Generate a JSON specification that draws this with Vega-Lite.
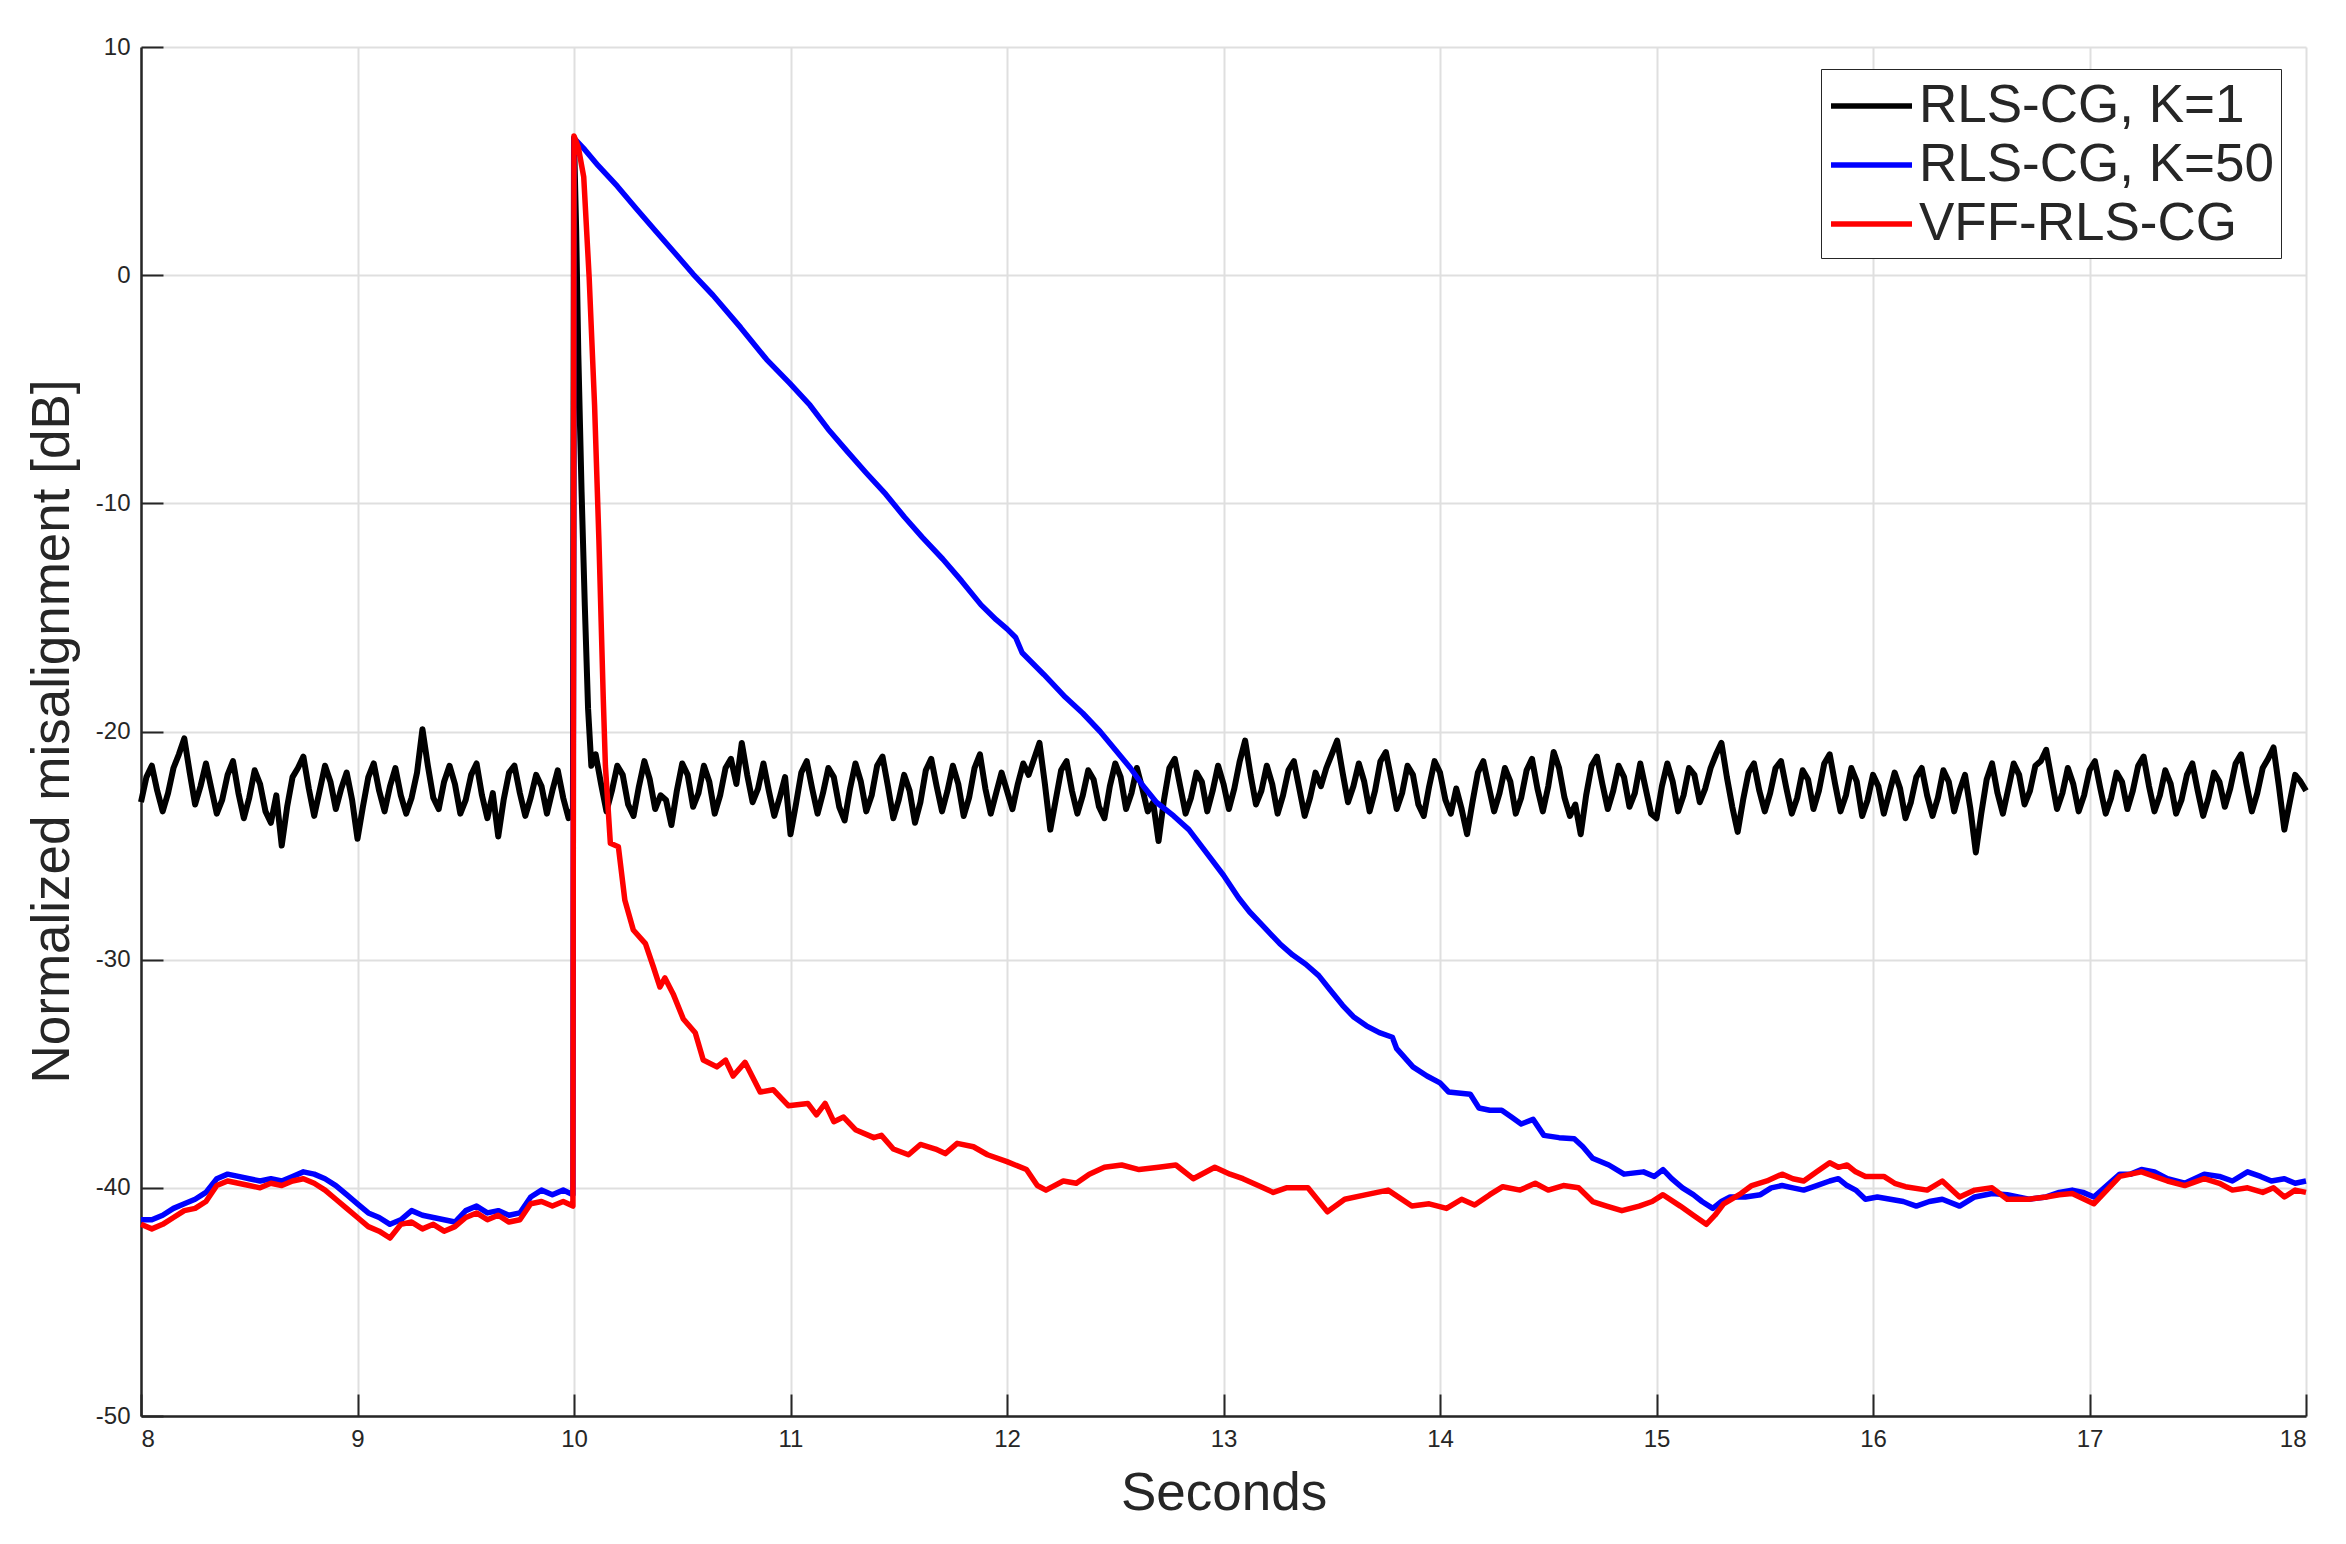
{
  "$schema": "https://vega.github.io/schema/vega-lite/v6.json",
  "width": 2165,
  "height": 1369,
  "autosize": {"type": "none"},
  "padding": {"left": 141, "top": 47, "right": 40, "bottom": 128},
  "background": "white",
  "datasets": {
    "k1": [
      {"t":8.000,"v":-23.1},{"t":8.025,"v":-22.0},{"t":8.050,"v":-21.5},{"t":8.075,"v":-22.6},{"t":8.100,"v":-23.5},
      {"t":8.125,"v":-22.7},{"t":8.150,"v":-21.6},{"t":8.175,"v":-21.0},{"t":8.200,"v":-20.3},{"t":8.225,"v":-21.8},
      {"t":8.250,"v":-23.2},{"t":8.275,"v":-22.4},{"t":8.300,"v":-21.4},{"t":8.325,"v":-22.5},{"t":8.350,"v":-23.6},
      {"t":8.375,"v":-23.0},{"t":8.400,"v":-21.9},{"t":8.425,"v":-21.3},{"t":8.450,"v":-22.7},{"t":8.475,"v":-23.8},
      {"t":8.500,"v":-22.9},{"t":8.525,"v":-21.7},{"t":8.550,"v":-22.3},{"t":8.575,"v":-23.5},{"t":8.600,"v":-24.0},
      {"t":8.625,"v":-22.8},{"t":8.650,"v":-25.0},{"t":8.675,"v":-23.3},{"t":8.700,"v":-22.0},{"t":8.725,"v":-21.6},
      {"t":8.750,"v":-21.1},{"t":8.775,"v":-22.5},{"t":8.800,"v":-23.7},{"t":8.825,"v":-22.6},{"t":8.850,"v":-21.5},
      {"t":8.875,"v":-22.2},{"t":8.900,"v":-23.4},{"t":8.925,"v":-22.5},{"t":8.950,"v":-21.8},{"t":8.975,"v":-23.0},
      {"t":9.000,"v":-24.7},{"t":9.025,"v":-23.3},{"t":9.050,"v":-22.0},{"t":9.075,"v":-21.4},{"t":9.100,"v":-22.6},
      {"t":9.125,"v":-23.5},{"t":9.150,"v":-22.4},{"t":9.175,"v":-21.6},{"t":9.200,"v":-22.8},{"t":9.225,"v":-23.6},
      {"t":9.250,"v":-22.9},{"t":9.275,"v":-21.8},{"t":9.300,"v":-19.9},{"t":9.325,"v":-21.5},{"t":9.350,"v":-22.9},
      {"t":9.375,"v":-23.4},{"t":9.400,"v":-22.2},{"t":9.425,"v":-21.5},{"t":9.450,"v":-22.3},{"t":9.475,"v":-23.6},
      {"t":9.500,"v":-23.0},{"t":9.525,"v":-21.9},{"t":9.550,"v":-21.4},{"t":9.575,"v":-22.8},{"t":9.600,"v":-23.8},
      {"t":9.625,"v":-22.7},{"t":9.650,"v":-24.6},{"t":9.675,"v":-23.0},{"t":9.700,"v":-21.8},{"t":9.725,"v":-21.5},
      {"t":9.750,"v":-22.7},{"t":9.775,"v":-23.7},{"t":9.800,"v":-22.9},{"t":9.825,"v":-21.9},{"t":9.850,"v":-22.4},
      {"t":9.875,"v":-23.6},{"t":9.900,"v":-22.6},{"t":9.925,"v":-21.7},{"t":9.950,"v":-22.9},{"t":9.975,"v":-23.8},
      {"t":9.995,"v":-23.4},{"t":10.000,"v":6.0},{"t":10.010,"v":2.0},{"t":10.020,"v":-3.5},{"t":10.035,"v":-9.5},
      {"t":10.050,"v":-14.5},{"t":10.065,"v":-19.0},{"t":10.080,"v":-21.5},{"t":10.100,"v":-21.0},{"t":10.125,"v":-22.3},
      {"t":10.150,"v":-23.5},{"t":10.175,"v":-22.6},{"t":10.200,"v":-21.5},{"t":10.225,"v":-21.9},{"t":10.250,"v":-23.2},
      {"t":10.275,"v":-23.7},{"t":10.300,"v":-22.4},{"t":10.325,"v":-21.3},{"t":10.350,"v":-22.1},{"t":10.375,"v":-23.4},
      {"t":10.400,"v":-22.8},{"t":10.425,"v":-23.0},{"t":10.450,"v":-24.1},{"t":10.475,"v":-22.6},{"t":10.500,"v":-21.4},
      {"t":10.525,"v":-21.9},{"t":10.550,"v":-23.3},{"t":10.575,"v":-22.7},{"t":10.600,"v":-21.5},{"t":10.625,"v":-22.2},
      {"t":10.650,"v":-23.6},{"t":10.675,"v":-22.8},{"t":10.700,"v":-21.6},{"t":10.725,"v":-21.2},{"t":10.750,"v":-22.3},
      {"t":10.775,"v":-20.5},{"t":10.800,"v":-21.9},{"t":10.825,"v":-23.1},{"t":10.850,"v":-22.5},{"t":10.875,"v":-21.4},
      {"t":10.900,"v":-22.6},{"t":10.925,"v":-23.7},{"t":10.950,"v":-22.9},{"t":10.975,"v":-22.0},{"t":11.000,"v":-24.5},
      {"t":11.025,"v":-23.2},{"t":11.050,"v":-21.8},{"t":11.075,"v":-21.3},{"t":11.100,"v":-22.5},{"t":11.125,"v":-23.6},
      {"t":11.150,"v":-22.7},{"t":11.175,"v":-21.6},{"t":11.200,"v":-22.0},{"t":11.225,"v":-23.3},{"t":11.250,"v":-23.9},
      {"t":11.275,"v":-22.5},{"t":11.300,"v":-21.4},{"t":11.325,"v":-22.2},{"t":11.350,"v":-23.5},{"t":11.375,"v":-22.8},
      {"t":11.400,"v":-21.5},{"t":11.425,"v":-21.1},{"t":11.450,"v":-22.4},{"t":11.475,"v":-23.8},{"t":11.500,"v":-23.0},
      {"t":11.525,"v":-21.9},{"t":11.550,"v":-22.6},{"t":11.575,"v":-24.0},{"t":11.600,"v":-23.1},{"t":11.625,"v":-21.7},
      {"t":11.650,"v":-21.2},{"t":11.675,"v":-22.4},{"t":11.700,"v":-23.5},{"t":11.725,"v":-22.6},{"t":11.750,"v":-21.5},
      {"t":11.775,"v":-22.3},{"t":11.800,"v":-23.7},{"t":11.825,"v":-22.9},{"t":11.850,"v":-21.6},{"t":11.875,"v":-21.0},
      {"t":11.900,"v":-22.5},{"t":11.925,"v":-23.6},{"t":11.950,"v":-22.7},{"t":11.975,"v":-21.8},{"t":12.000,"v":-22.6},
      {"t":12.025,"v":-23.4},{"t":12.050,"v":-22.3},{"t":12.075,"v":-21.4},{"t":12.100,"v":-21.9},{"t":12.125,"v":-21.2},
      {"t":12.150,"v":-20.5},{"t":12.175,"v":-22.3},{"t":12.200,"v":-24.3},{"t":12.225,"v":-23.0},{"t":12.250,"v":-21.7},
      {"t":12.275,"v":-21.3},{"t":12.300,"v":-22.6},{"t":12.325,"v":-23.6},{"t":12.350,"v":-22.8},{"t":12.375,"v":-21.7},
      {"t":12.400,"v":-22.1},{"t":12.425,"v":-23.3},{"t":12.450,"v":-23.8},{"t":12.475,"v":-22.4},{"t":12.500,"v":-21.4},
      {"t":12.525,"v":-22.0},{"t":12.550,"v":-23.4},{"t":12.575,"v":-22.7},{"t":12.600,"v":-21.6},{"t":12.625,"v":-22.5},
      {"t":12.650,"v":-23.5},{"t":12.675,"v":-23.1},{"t":12.700,"v":-24.8},{"t":12.725,"v":-23.0},{"t":12.750,"v":-21.6},
      {"t":12.775,"v":-21.2},{"t":12.800,"v":-22.4},{"t":12.825,"v":-23.6},{"t":12.850,"v":-22.9},{"t":12.875,"v":-21.8},
      {"t":12.900,"v":-22.2},{"t":12.925,"v":-23.5},{"t":12.950,"v":-22.6},{"t":12.975,"v":-21.5},{"t":13.000,"v":-22.3},
      {"t":13.025,"v":-23.4},{"t":13.050,"v":-22.5},{"t":13.075,"v":-21.3},{"t":13.100,"v":-20.4},{"t":13.125,"v":-21.9},
      {"t":13.150,"v":-23.2},{"t":13.175,"v":-22.6},{"t":13.200,"v":-21.5},{"t":13.225,"v":-22.3},{"t":13.250,"v":-23.6},
      {"t":13.275,"v":-22.8},{"t":13.300,"v":-21.7},{"t":13.325,"v":-21.3},{"t":13.350,"v":-22.5},{"t":13.375,"v":-23.7},
      {"t":13.400,"v":-22.9},{"t":13.425,"v":-21.8},{"t":13.450,"v":-22.4},{"t":13.475,"v":-21.6},{"t":13.500,"v":-21.0},
      {"t":13.525,"v":-20.4},{"t":13.550,"v":-21.8},{"t":13.575,"v":-23.1},{"t":13.600,"v":-22.4},{"t":13.625,"v":-21.4},
      {"t":13.650,"v":-22.2},{"t":13.675,"v":-23.5},{"t":13.700,"v":-22.6},{"t":13.725,"v":-21.3},{"t":13.750,"v":-20.9},
      {"t":13.775,"v":-22.1},{"t":13.800,"v":-23.4},{"t":13.825,"v":-22.7},{"t":13.850,"v":-21.5},{"t":13.875,"v":-21.9},
      {"t":13.900,"v":-23.2},{"t":13.925,"v":-23.7},{"t":13.950,"v":-22.4},{"t":13.975,"v":-21.3},{"t":14.000,"v":-21.8},
      {"t":14.025,"v":-23.0},{"t":14.050,"v":-23.6},{"t":14.075,"v":-22.5},{"t":14.100,"v":-23.4},{"t":14.125,"v":-24.5},
      {"t":14.150,"v":-23.1},{"t":14.175,"v":-21.8},{"t":14.200,"v":-21.3},{"t":14.225,"v":-22.4},{"t":14.250,"v":-23.5},
      {"t":14.275,"v":-22.7},{"t":14.300,"v":-21.6},{"t":14.325,"v":-22.2},{"t":14.350,"v":-23.6},{"t":14.375,"v":-22.9},
      {"t":14.400,"v":-21.7},{"t":14.425,"v":-21.2},{"t":14.450,"v":-22.5},{"t":14.475,"v":-23.5},{"t":14.500,"v":-22.4},
      {"t":14.525,"v":-20.9},{"t":14.550,"v":-21.6},{"t":14.575,"v":-22.9},{"t":14.600,"v":-23.7},{"t":14.625,"v":-23.2},
      {"t":14.650,"v":-24.5},{"t":14.675,"v":-22.8},{"t":14.700,"v":-21.5},{"t":14.725,"v":-21.1},{"t":14.750,"v":-22.3},
      {"t":14.775,"v":-23.4},{"t":14.800,"v":-22.6},{"t":14.825,"v":-21.5},{"t":14.850,"v":-22.0},{"t":14.875,"v":-23.3},
      {"t":14.900,"v":-22.7},{"t":14.925,"v":-21.4},{"t":14.950,"v":-22.5},{"t":14.975,"v":-23.6},{"t":15.000,"v":-23.8},
      {"t":15.025,"v":-22.4},{"t":15.050,"v":-21.4},{"t":15.075,"v":-22.2},{"t":15.100,"v":-23.5},{"t":15.125,"v":-22.8},
      {"t":15.150,"v":-21.6},{"t":15.175,"v":-21.9},{"t":15.200,"v":-23.1},{"t":15.225,"v":-22.5},{"t":15.250,"v":-21.6},
      {"t":15.275,"v":-21.0},{"t":15.300,"v":-20.5},{"t":15.325,"v":-22.0},{"t":15.350,"v":-23.3},{"t":15.375,"v":-24.4},
      {"t":15.400,"v":-23.0},{"t":15.425,"v":-21.8},{"t":15.450,"v":-21.4},{"t":15.475,"v":-22.6},{"t":15.500,"v":-23.5},
      {"t":15.525,"v":-22.7},{"t":15.550,"v":-21.6},{"t":15.575,"v":-21.3},{"t":15.600,"v":-22.5},{"t":15.625,"v":-23.6},
      {"t":15.650,"v":-22.9},{"t":15.675,"v":-21.7},{"t":15.700,"v":-22.1},{"t":15.725,"v":-23.4},{"t":15.750,"v":-22.6},
      {"t":15.775,"v":-21.4},{"t":15.800,"v":-21.0},{"t":15.825,"v":-22.3},{"t":15.850,"v":-23.5},{"t":15.875,"v":-22.8},
      {"t":15.900,"v":-21.6},{"t":15.925,"v":-22.2},{"t":15.950,"v":-23.7},{"t":15.975,"v":-23.0},{"t":16.000,"v":-21.9},
      {"t":16.025,"v":-22.4},{"t":16.050,"v":-23.6},{"t":16.075,"v":-22.7},{"t":16.100,"v":-21.8},{"t":16.125,"v":-22.5},
      {"t":16.150,"v":-23.8},{"t":16.175,"v":-23.1},{"t":16.200,"v":-22.0},{"t":16.225,"v":-21.6},{"t":16.250,"v":-22.8},
      {"t":16.275,"v":-23.7},{"t":16.300,"v":-22.9},{"t":16.325,"v":-21.7},{"t":16.350,"v":-22.2},{"t":16.375,"v":-23.5},
      {"t":16.400,"v":-22.6},{"t":16.425,"v":-21.9},{"t":16.450,"v":-23.4},{"t":16.475,"v":-25.3},{"t":16.500,"v":-23.6},
      {"t":16.525,"v":-22.1},{"t":16.550,"v":-21.4},{"t":16.575,"v":-22.7},{"t":16.600,"v":-23.6},{"t":16.625,"v":-22.5},
      {"t":16.650,"v":-21.4},{"t":16.675,"v":-21.9},{"t":16.700,"v":-23.2},{"t":16.725,"v":-22.6},{"t":16.750,"v":-21.5},
      {"t":16.775,"v":-21.3},{"t":16.800,"v":-20.8},{"t":16.825,"v":-22.1},{"t":16.850,"v":-23.4},{"t":16.875,"v":-22.7},
      {"t":16.900,"v":-21.6},{"t":16.925,"v":-22.3},{"t":16.950,"v":-23.5},{"t":16.975,"v":-22.8},{"t":17.000,"v":-21.7},
      {"t":17.025,"v":-21.3},{"t":17.050,"v":-22.5},{"t":17.075,"v":-23.6},{"t":17.100,"v":-22.9},{"t":17.125,"v":-21.8},
      {"t":17.150,"v":-22.2},{"t":17.175,"v":-23.4},{"t":17.200,"v":-22.6},{"t":17.225,"v":-21.5},{"t":17.250,"v":-21.1},
      {"t":17.275,"v":-22.4},{"t":17.300,"v":-23.5},{"t":17.325,"v":-22.8},{"t":17.350,"v":-21.7},{"t":17.375,"v":-22.3},
      {"t":17.400,"v":-23.6},{"t":17.425,"v":-23.0},{"t":17.450,"v":-21.9},{"t":17.475,"v":-21.4},{"t":17.500,"v":-22.6},
      {"t":17.525,"v":-23.7},{"t":17.550,"v":-22.9},{"t":17.575,"v":-21.8},{"t":17.600,"v":-22.2},{"t":17.625,"v":-23.3},
      {"t":17.650,"v":-22.5},{"t":17.675,"v":-21.4},{"t":17.700,"v":-21.0},{"t":17.725,"v":-22.3},{"t":17.750,"v":-23.5},
      {"t":17.775,"v":-22.7},{"t":17.800,"v":-21.6},{"t":17.825,"v":-21.2},{"t":17.850,"v":-20.7},{"t":17.875,"v":-22.4},
      {"t":17.900,"v":-24.3},{"t":17.925,"v":-23.1},{"t":17.950,"v":-21.9},{"t":17.975,"v":-22.2},{"t":18.000,"v":-22.6}
    ],
    "k50": [
      {"t":8.00,"v":-41.4},{"t":8.05,"v":-41.4},{"t":8.10,"v":-41.2},{"t":8.15,"v":-40.9},{"t":8.20,"v":-40.7},
      {"t":8.25,"v":-40.5},{"t":8.30,"v":-40.2},{"t":8.35,"v":-39.6},{"t":8.40,"v":-39.4},{"t":8.45,"v":-39.5},
      {"t":8.50,"v":-39.6},{"t":8.55,"v":-39.7},{"t":8.60,"v":-39.6},{"t":8.65,"v":-39.7},{"t":8.70,"v":-39.5},
      {"t":8.75,"v":-39.3},{"t":8.80,"v":-39.4},{"t":8.85,"v":-39.6},{"t":8.90,"v":-39.9},{"t":8.95,"v":-40.3},
      {"t":9.00,"v":-40.7},{"t":9.05,"v":-41.1},{"t":9.10,"v":-41.3},{"t":9.15,"v":-41.6},{"t":9.20,"v":-41.4},
      {"t":9.25,"v":-41.0},{"t":9.30,"v":-41.2},{"t":9.35,"v":-41.3},{"t":9.40,"v":-41.4},{"t":9.45,"v":-41.5},
      {"t":9.50,"v":-41.0},{"t":9.55,"v":-40.8},{"t":9.60,"v":-41.1},{"t":9.65,"v":-41.0},{"t":9.70,"v":-41.2},
      {"t":9.75,"v":-41.1},{"t":9.80,"v":-40.4},{"t":9.85,"v":-40.1},{"t":9.90,"v":-40.3},{"t":9.95,"v":-40.1},
      {"t":9.995,"v":-40.3},{"t":10.00,"v":6.0},{"t":10.05,"v":5.5},{"t":10.112,"v":4.8},{"t":10.20,"v":3.9},
      {"t":10.289,"v":2.9},{"t":10.38,"v":1.9},{"t":10.466,"v":0.97},{"t":10.55,"v":0.05},{"t":10.642,"v":-0.88},
      {"t":10.77,"v":-2.3},{"t":10.89,"v":-3.7},{"t":10.996,"v":-4.73},{"t":11.09,"v":-5.7},{"t":11.173,"v":-6.74},
      {"t":11.26,"v":-7.7},{"t":11.35,"v":-8.67},{"t":11.44,"v":-9.6},{"t":11.526,"v":-10.6},{"t":11.61,"v":-11.5},
      {"t":11.703,"v":-12.44},{"t":11.79,"v":-13.4},{"t":11.88,"v":-14.45},{"t":11.95,"v":-15.1},{"t":12.00,"v":-15.5},
      {"t":12.04,"v":-15.88},{"t":12.07,"v":-16.55},{"t":12.17,"v":-17.5},{"t":12.27,"v":-18.5},{"t":12.35,"v":-19.2},
      {"t":12.43,"v":-20.0},{"t":12.50,"v":-20.8},{"t":12.57,"v":-21.6},{"t":12.63,"v":-22.4},{"t":12.69,"v":-23.1},
      {"t":12.77,"v":-23.7},{"t":12.84,"v":-24.3},{"t":12.92,"v":-25.3},{"t":13.00,"v":-26.3},{"t":13.07,"v":-27.3},
      {"t":13.12,"v":-27.9},{"t":13.18,"v":-28.5},{"t":13.26,"v":-29.3},{"t":13.32,"v":-29.8},{"t":13.38,"v":-30.2},
      {"t":13.44,"v":-30.7},{"t":13.49,"v":-31.3},{"t":13.55,"v":-32.0},{"t":13.60,"v":-32.5},{"t":13.66,"v":-32.9},
      {"t":13.72,"v":-33.2},{"t":13.78,"v":-33.4},{"t":13.80,"v":-33.9},{"t":13.875,"v":-34.7},{"t":13.94,"v":-35.1},
      {"t":14.00,"v":-35.4},{"t":14.04,"v":-35.8},{"t":14.14,"v":-35.9},{"t":14.18,"v":-36.5},{"t":14.23,"v":-36.6},
      {"t":14.285,"v":-36.6},{"t":14.33,"v":-36.9},{"t":14.375,"v":-37.2},{"t":14.43,"v":-37.0},{"t":14.48,"v":-37.7},
      {"t":14.55,"v":-37.8},{"t":14.62,"v":-37.85},{"t":14.66,"v":-38.2},{"t":14.705,"v":-38.7},{"t":14.78,"v":-39.0},
      {"t":14.85,"v":-39.4},{"t":14.94,"v":-39.3},{"t":14.99,"v":-39.5},{"t":15.03,"v":-39.2},{"t":15.07,"v":-39.6},
      {"t":15.12,"v":-40.0},{"t":15.17,"v":-40.3},{"t":15.21,"v":-40.6},{"t":15.26,"v":-40.9},{"t":15.30,"v":-40.6},
      {"t":15.34,"v":-40.4},{"t":15.41,"v":-40.4},{"t":15.48,"v":-40.3},{"t":15.53,"v":-40.0},{"t":15.58,"v":-39.9},
      {"t":15.63,"v":-40.0},{"t":15.68,"v":-40.1},{"t":15.74,"v":-39.9},{"t":15.80,"v":-39.7},{"t":15.84,"v":-39.6},
      {"t":15.88,"v":-39.9},{"t":15.92,"v":-40.1},{"t":15.965,"v":-40.5},{"t":16.02,"v":-40.4},{"t":16.08,"v":-40.5},
      {"t":16.14,"v":-40.6},{"t":16.20,"v":-40.8},{"t":16.26,"v":-40.6},{"t":16.32,"v":-40.5},{"t":16.40,"v":-40.8},
      {"t":16.47,"v":-40.4},{"t":16.55,"v":-40.25},{"t":16.62,"v":-40.3},{"t":16.72,"v":-40.5},{"t":16.80,"v":-40.4},
      {"t":16.86,"v":-40.2},{"t":16.92,"v":-40.1},{"t":16.97,"v":-40.2},{"t":17.02,"v":-40.4},{"t":17.08,"v":-39.9},
      {"t":17.14,"v":-39.4},{"t":17.19,"v":-39.4},{"t":17.24,"v":-39.2},{"t":17.30,"v":-39.3},{"t":17.36,"v":-39.6},
      {"t":17.44,"v":-39.8},{"t":17.53,"v":-39.4},{"t":17.60,"v":-39.5},{"t":17.66,"v":-39.7},{"t":17.73,"v":-39.3},
      {"t":17.79,"v":-39.5},{"t":17.84,"v":-39.7},{"t":17.90,"v":-39.6},{"t":17.95,"v":-39.8},{"t":18.00,"v":-39.7}
    ],
    "vff": [
      {"t":8.00,"v":-41.6},{"t":8.05,"v":-41.8},{"t":8.10,"v":-41.6},{"t":8.15,"v":-41.3},{"t":8.20,"v":-41.0},
      {"t":8.25,"v":-40.9},{"t":8.30,"v":-40.6},{"t":8.35,"v":-39.9},{"t":8.40,"v":-39.7},{"t":8.45,"v":-39.8},
      {"t":8.50,"v":-39.9},{"t":8.55,"v":-40.0},{"t":8.60,"v":-39.8},{"t":8.65,"v":-39.9},{"t":8.70,"v":-39.7},
      {"t":8.75,"v":-39.6},{"t":8.80,"v":-39.8},{"t":8.85,"v":-40.1},{"t":8.90,"v":-40.5},{"t":8.95,"v":-40.9},
      {"t":9.00,"v":-41.3},{"t":9.05,"v":-41.7},{"t":9.10,"v":-41.9},{"t":9.15,"v":-42.2},{"t":9.20,"v":-41.6},
      {"t":9.25,"v":-41.5},{"t":9.30,"v":-41.8},{"t":9.35,"v":-41.6},{"t":9.40,"v":-41.9},{"t":9.45,"v":-41.7},
      {"t":9.50,"v":-41.3},{"t":9.55,"v":-41.1},{"t":9.60,"v":-41.4},{"t":9.65,"v":-41.2},{"t":9.70,"v":-41.5},
      {"t":9.75,"v":-41.4},{"t":9.80,"v":-40.7},{"t":9.85,"v":-40.6},{"t":9.90,"v":-40.8},{"t":9.95,"v":-40.6},
      {"t":9.995,"v":-40.8},{"t":10.00,"v":6.1},{"t":10.02,"v":5.6},{"t":10.045,"v":4.3},{"t":10.07,"v":-0.1},
      {"t":10.095,"v":-5.7},{"t":10.115,"v":-11.6},{"t":10.135,"v":-18.5},{"t":10.145,"v":-21.5},{"t":10.168,"v":-24.9},
      {"t":10.205,"v":-25.05},{"t":10.235,"v":-27.4},{"t":10.274,"v":-28.7},{"t":10.33,"v":-29.3},{"t":10.366,"v":-30.3},
      {"t":10.397,"v":-31.2},{"t":10.42,"v":-30.8},{"t":10.458,"v":-31.5},{"t":10.505,"v":-32.6},{"t":10.56,"v":-33.2},
      {"t":10.597,"v":-34.4},{"t":10.66,"v":-34.7},{"t":10.70,"v":-34.4},{"t":10.735,"v":-35.1},{"t":10.79,"v":-34.5},
      {"t":10.86,"v":-35.8},{"t":10.92,"v":-35.7},{"t":10.99,"v":-36.4},{"t":11.08,"v":-36.3},{"t":11.12,"v":-36.8},
      {"t":11.16,"v":-36.3},{"t":11.20,"v":-37.1},{"t":11.245,"v":-36.9},{"t":11.30,"v":-37.45},{"t":11.385,"v":-37.8},
      {"t":11.42,"v":-37.7},{"t":11.475,"v":-38.3},{"t":11.545,"v":-38.55},{"t":11.60,"v":-38.1},{"t":11.67,"v":-38.3},
      {"t":11.715,"v":-38.5},{"t":11.77,"v":-38.05},{"t":11.845,"v":-38.2},{"t":11.91,"v":-38.55},{"t":12.00,"v":-38.85},
      {"t":12.09,"v":-39.2},{"t":12.14,"v":-39.9},{"t":12.18,"v":-40.1},{"t":12.26,"v":-39.7},{"t":12.32,"v":-39.8},
      {"t":12.38,"v":-39.4},{"t":12.45,"v":-39.1},{"t":12.53,"v":-39.0},{"t":12.61,"v":-39.2},{"t":12.70,"v":-39.1},
      {"t":12.78,"v":-39.0},{"t":12.86,"v":-39.6},{"t":12.96,"v":-39.1},{"t":13.03,"v":-39.4},{"t":13.09,"v":-39.6},
      {"t":13.16,"v":-39.9},{"t":13.23,"v":-40.2},{"t":13.29,"v":-40.0},{"t":13.39,"v":-40.0},{"t":13.48,"v":-41.05},
      {"t":13.56,"v":-40.5},{"t":13.66,"v":-40.3},{"t":13.76,"v":-40.1},{"t":13.87,"v":-40.8},{"t":13.95,"v":-40.7},
      {"t":14.03,"v":-40.9},{"t":14.10,"v":-40.5},{"t":14.16,"v":-40.75},{"t":14.23,"v":-40.3},{"t":14.29,"v":-39.95},
      {"t":14.37,"v":-40.1},{"t":14.44,"v":-39.8},{"t":14.50,"v":-40.1},{"t":14.57,"v":-39.9},{"t":14.64,"v":-40.0},
      {"t":14.705,"v":-40.6},{"t":14.77,"v":-40.8},{"t":14.84,"v":-41.0},{"t":14.92,"v":-40.8},{"t":14.98,"v":-40.6},
      {"t":15.03,"v":-40.3},{"t":15.11,"v":-40.8},{"t":15.17,"v":-41.2},{"t":15.23,"v":-41.6},{"t":15.27,"v":-41.2},
      {"t":15.31,"v":-40.7},{"t":15.39,"v":-40.25},{"t":15.44,"v":-39.9},{"t":15.51,"v":-39.7},{"t":15.58,"v":-39.4},
      {"t":15.63,"v":-39.6},{"t":15.68,"v":-39.7},{"t":15.74,"v":-39.3},{"t":15.80,"v":-38.9},{"t":15.84,"v":-39.1},
      {"t":15.88,"v":-39.0},{"t":15.92,"v":-39.3},{"t":15.965,"v":-39.5},{"t":16.05,"v":-39.5},{"t":16.10,"v":-39.8},
      {"t":16.15,"v":-39.95},{"t":16.25,"v":-40.1},{"t":16.32,"v":-39.7},{"t":16.40,"v":-40.4},{"t":16.47,"v":-40.1},
      {"t":16.55,"v":-40.0},{"t":16.62,"v":-40.5},{"t":16.72,"v":-40.5},{"t":16.80,"v":-40.4},{"t":16.86,"v":-40.3},
      {"t":16.92,"v":-40.25},{"t":17.02,"v":-40.7},{"t":17.08,"v":-40.1},{"t":17.14,"v":-39.5},{"t":17.24,"v":-39.3},
      {"t":17.30,"v":-39.5},{"t":17.36,"v":-39.7},{"t":17.44,"v":-39.9},{"t":17.53,"v":-39.6},{"t":17.60,"v":-39.8},
      {"t":17.66,"v":-40.1},{"t":17.73,"v":-40.0},{"t":17.80,"v":-40.2},{"t":17.85,"v":-40.0},{"t":17.90,"v":-40.4},
      {"t":17.95,"v":-40.1},{"t":18.00,"v":-40.2}
    ]
  },
  "encoding": {
    "x": {
      "field": "t",
      "type": "quantitative",
      "scale": {"domain": [8, 18], "nice": false, "zero": false},
      "axis": {
        "title": "Seconds",
        "values": [8, 9, 10, 11, 12, 13, 14, 15, 16, 17, 18],
        "titleY": 77,
        "titleBaseline": "middle"
      }
    },
    "y": {
      "field": "v",
      "type": "quantitative",
      "scale": {"domain": [-50, 10], "nice": false, "zero": false},
      "axis": {
        "title": "Normalized misalignment [dB]",
        "values": [-50, -40, -30, -20, -10, 0, 10],
        "labelExpr": "'' + datum.value",
        "titleX": -89,
        "titleY": 684,
        "titleBaseline": "middle"
      }
    },
    "color": {
      "datum": "RLS-CG, K=1",
      "type": "nominal",
      "scale": {
        "domain": ["RLS-CG, K=1", "RLS-CG, K=50", "VFF-RLS-CG"],
        "range": ["#000000", "#0000ff", "#ff0000"]
      },
      "legend": {
        "orient": "none",
        "legendX": 1680,
        "legendY": 22,
        "title": null,
        "symbolType": "M-1,0H2",
        "symbolSize": 2916,
        "symbolStrokeWidth": 5.5,
        "labelFontSize": 53,
        "labelFont": "Liberation Sans",
        "labelColor": "#262626",
        "labelOffset": 31,
        "labelLimit": 1000,
        "strokeColor": "#262626",
        "fillColor": "white",
        "padding": 7,
        "rowPadding": 2
      }
    }
  },
  "layer": [
    {
      "data": {"name": "k1"},
      "mark": {"type": "line", "strokeWidth": 6, "strokeJoin": "round"},
      "encoding": {"color": {"datum": "RLS-CG, K=1"}}
    },
    {
      "data": {"name": "k50"},
      "mark": {"type": "line", "strokeWidth": 5.5, "strokeJoin": "round"},
      "encoding": {"color": {"datum": "RLS-CG, K=50"}}
    },
    {
      "data": {"name": "vff"},
      "mark": {"type": "line", "strokeWidth": 5.5, "strokeJoin": "round"},
      "encoding": {"color": {"datum": "VFF-RLS-CG"}}
    }
  ],
  "config": {
    "view": {"stroke": null},
    "font": "Liberation Sans",
    "axis": {
      "grid": true,
      "gridColor": "#dfdfdf",
      "gridWidth": 2,
      "domainColor": "#262626",
      "domainWidth": 2.5,
      "tickColor": "#262626",
      "tickWidth": 2,
      "tickSize": -22,
      "labelPadding": 33,
      "labelFont": "Liberation Sans",
      "labelFontSize": 24,
      "labelColor": "#262626",
      "titleFont": "Liberation Sans",
      "titleFontSize": 53,
      "titleFontWeight": "normal",
      "titleColor": "#262626"
    }
  }
}
